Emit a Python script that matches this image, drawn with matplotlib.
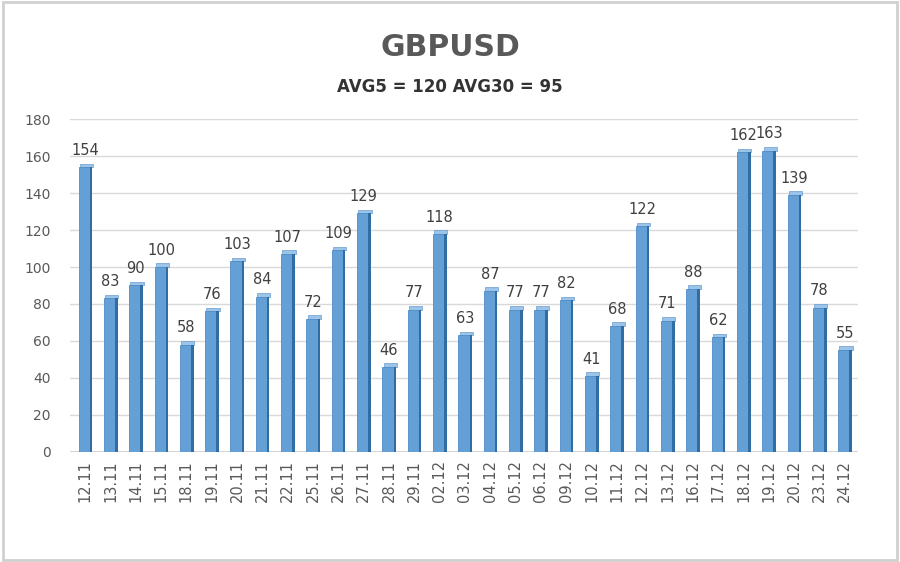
import numpy as np
from matplotlib import pyplot as plt
from matplotlib.patches import Rectangle

dates = ["12.11", "13.11", "14.11", "15.11", "18.11", "19.11", "20.11", "21.11",
         "22.11", "25.11", "26.11", "27.11", "28.11", "29.11", "02.12", "03.12",
         "04.12", "05.12", "06.12", "09.12", "10.12", "11.12", "12.12", "13.12",
         "16.12", "17.12", "18.12", "19.12", "20.12", "23.12", "24.12"]
values = [154, 83, 90, 100, 58, 76, 103, 84, 107, 72, 109, 129, 46, 77, 118,
          63, 87, 77, 77, 82, 41, 68, 122, 71, 88, 62, 162, 163, 139, 78, 55]
yticks = list(range(0, 181, 20))

fig = plt.figure(figsize=(9, 5.62), dpi=100)
fig.patches.append(Rectangle((0.003, 0.004), 0.994, 0.992, transform=fig.transFigure,
                             fill=False, edgecolor="#d0d0d0", linewidth=2))

ax = fig.add_axes([0.078, 0.196, 0.875, 0.592])
x = np.arange(len(values))

# front face, darker side and light top for a pseudo 3D look
ax.bar(x - 0.04, values, width=0.44, color="#649fd6", edgecolor="#4f8cc6",
       linewidth=0.6, zorder=3)
ax.bar(x + 0.23, values, width=0.1, color="#2f6da3", linewidth=0, zorder=3)
ax.bar(x + 0.05, [2.0] * len(values), bottom=values, width=0.52, color="#9cc4e8",
       edgecolor="#4f8cc6", linewidth=0.4, zorder=2)

for xi, v in zip(x, values):
    ax.text(xi, v + 5, str(v), ha="center", va="bottom", fontsize=10.5,
            color="#404040", zorder=4)

ax.set_ylim(0, 180)
ax.set_xlim(-0.59, len(values) - 0.49)
ax.set_yticks(yticks)
ax.set_yticklabels([str(t) for t in yticks], fontsize=10, color="#595959")
ax.set_xticks(x)
ax.set_xticklabels(dates, rotation=90, fontsize=10.5, color="#595959")
ax.tick_params(axis="y", length=0, pad=14)
ax.tick_params(axis="x", length=0, pad=6)
ax.grid(axis="y", color="#d9d9d9", linewidth=1)
ax.set_axisbelow(True)
for s in ax.spines.values():
    s.set_visible(False)
ax.axhline(0, color="#d0d0d0", linewidth=1.2, zorder=1)

fig.text(0.5, 0.915, "GBPUSD", ha="center", va="center", fontsize=21.5,
         fontweight="bold", color="#595959")
fig.text(0.5, 0.845, "AVG5 = 120 AVG30 = 95", ha="center", va="center",
         fontsize=12, fontweight="bold", color="#333333")

fig.savefig("out.png", dpi=100, facecolor="white")
